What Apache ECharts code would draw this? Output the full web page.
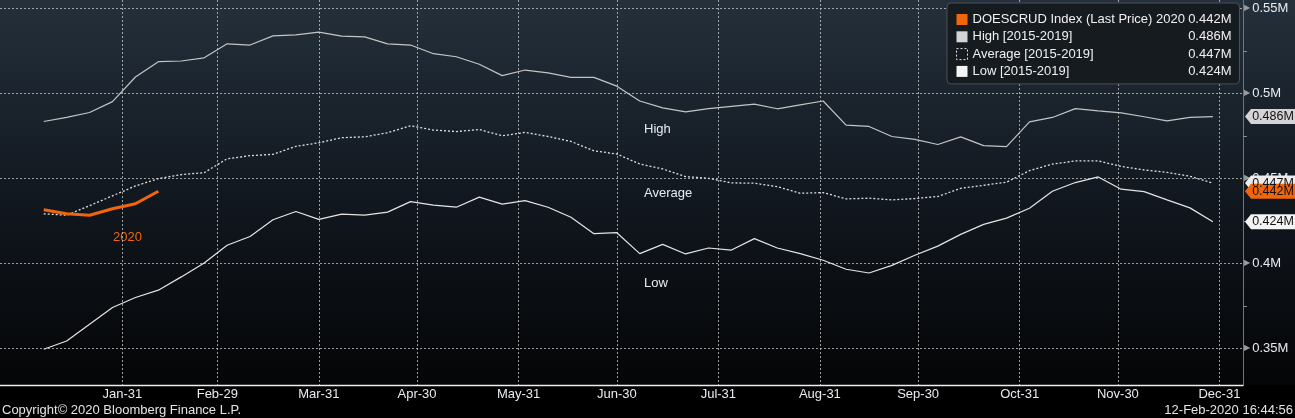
<!DOCTYPE html>
<html><head><meta charset="utf-8">
<script src="https://cdn.jsdelivr.net/npm/echarts@6/dist/echarts.min.js"></script>
<style>html,body{margin:0;padding:0;background:#000;}#c{width:1295px;height:418px;}</style>
</head><body><div id="c"></div>
<script>
// ---------- data ----------
const weeks = ['2020-01-07','2020-01-14','2020-01-21','2020-01-28','2020-02-04','2020-02-11','2020-02-18','2020-02-25',
'2020-03-03','2020-03-10','2020-03-17','2020-03-24','2020-03-31','2020-04-07','2020-04-14','2020-04-21','2020-04-28',
'2020-05-05','2020-05-12','2020-05-19','2020-05-26','2020-06-02','2020-06-09','2020-06-16','2020-06-23','2020-06-30',
'2020-07-07','2020-07-14','2020-07-21','2020-07-28','2020-08-04','2020-08-11','2020-08-18','2020-08-25',
'2020-09-01','2020-09-08','2020-09-15','2020-09-22','2020-09-29','2020-10-06','2020-10-13','2020-10-20','2020-10-27',
'2020-11-03','2020-11-10','2020-11-17','2020-11-24','2020-12-01','2020-12-08','2020-12-15','2020-12-22','2020-12-29'];
const high = [0.4834,0.4858,0.4887,0.4951,0.5096,0.5186,0.5190,0.5209,0.5291,0.5284,0.5338,0.5344,0.5360,0.5336,0.5332,0.5291,0.5284,
0.5233,0.5215,0.5171,0.5104,0.5137,0.5120,0.5094,0.5094,0.5042,0.4955,0.4914,0.4891,0.4910,0.4923,0.4936,0.4909,0.4932,0.4955,
0.4813,0.4805,0.4746,0.4729,0.4699,0.4744,0.4692,0.4686,0.4832,0.4858,0.4910,0.4897,0.4885,0.4862,0.4838,0.4858,0.4863];
const average = [0.4291,0.4283,0.4339,0.4397,0.4455,0.4498,0.4522,0.4533,0.4615,0.4633,0.4641,0.4688,0.4709,0.4739,0.4744,0.4768,0.4809,
0.4784,0.4775,0.4787,0.4750,0.4770,0.4746,0.4717,0.4662,0.4643,0.4584,0.4555,0.4510,0.4500,0.4473,0.4471,0.4451,0.4412,0.4416,
0.4379,0.4383,0.4373,0.4381,0.4393,0.4441,0.4459,0.4477,0.4545,0.4584,0.4602,0.4602,0.4570,0.4549,0.4535,0.4512,0.4472];
const low = [0.3494,0.3543,0.3642,0.3740,0.3799,0.3842,0.3920,0.4002,0.4106,0.4158,0.4256,0.4305,0.4258,0.4289,0.4283,0.4301,0.4363,
0.4342,0.4330,0.4389,0.4348,0.4369,0.4330,0.4271,0.4174,0.4180,0.4057,0.4111,0.4055,0.4090,0.4078,0.4145,0.4090,0.4057,0.4018,
0.3965,0.3943,0.3988,0.4047,0.4101,0.4170,0.4229,0.4266,0.4324,0.4424,0.4475,0.4508,0.4436,0.4422,0.4373,0.4326,0.4244];
const current2020 = [0.4315,0.4291,0.4283,0.4321,0.4350,0.4424];

const xTickDates = ['2020-01-31','2020-02-29','2020-03-31','2020-04-30','2020-05-31','2020-06-30',
'2020-07-31','2020-08-31','2020-09-30','2020-10-31','2020-11-30','2020-12-31'];
const xTickLabels = ['Jan-31','Feb-29','Mar-31','Apr-30','May-31','Jun-30','Jul-31','Aug-31','Sep-30','Oct-31','Nov-30','Dec-31'];
const yTickValues = [0.35,0.4,0.45,0.5,0.55];
const yTickLabels = ['0.35M','0.4M','0.45M','0.5M','0.55M'];
const yMinorTicks = [0.375,0.425,0.475,0.525];
const seriesNames = ['DOESCRUD Index (Last Price) 2020','High [2015-2019]','Average [2015-2019]','Low [2015-2019]'];

// ---------- helpers ----------
const FONT = '"Liberation Sans", Arial, sans-serif';
function dayOfYear(s){const p=s.split('-').map(Number);return (Date.UTC(p[0],p[1]-1,p[2])-Date.UTC(2020,0,1))/86400000;}
const X_MIN=-7.35, X_MAX=372.2, Y_MIN=0.3284, Y_MAX=0.5549;
const xTickDays = xTickDates.map(dayOfYear);
const pair = arr => arr.map((v,i)=>[dayOfYear(weeks[i]), v]);
const last = a => a[a.length-1];
const fmt = v => v.toFixed(3)+'M';
const lastValues = {};
lastValues[seriesNames[0]] = last(current2020);
lastValues[seriesNames[1]] = last(high);
lastValues[seriesNames[2]] = last(average);
lastValues[seriesNames[3]] = last(low);

const C_ORANGE='#f2650a', C_HIGH='#d4d4d4', C_AVG='#ececec', C_LOW='#f4f4f4';
const gridLine = {show:true, lineStyle:{color:'rgba(205,205,205,0.75)', width:1, type:[2,2]}};
const TXT = '#e8ecf2';

function tag(value,color){
  return {symbol:'path://M0,7 L6,0 L50,0 L50,14 L6,14 Z', symbolSize:[50,15], symbolOffset:[27,0], silent:true,
    itemStyle:{color:color},
    label:{show:true, position:'inside', formatter:()=>fmt(value), color:'#111', fontSize:12.5, fontFamily:FONT, offset:[3,0]},
    data:[{coord:[X_MAX,value]}]};
}

const chart = echarts.init(document.getElementById('c'), null, {renderer:'canvas'});
chart.setOption({
  animation:false,
  backgroundColor:'#000',
  grid:{left:0, right:52, top:0, bottom:33, containLabel:false, outerBoundsMode:'none'},
  xAxis:{type:'value', min:X_MIN, max:X_MAX,
    axisLine:{show:true, onZero:false, lineStyle:{color:'#eeeeee', width:1.3}},
    axisTick:{show:false, customValues:xTickDays},
    axisLabel:{customValues:xTickDays, formatter:v=>xTickLabels[xTickDays.indexOf(v)], color:TXT, fontSize:13, fontFamily:FONT, margin:3},
    splitLine:gridLine},
  yAxis:[{type:'value', position:'right', min:Y_MIN, max:Y_MAX,
    axisLine:{show:true, onZero:false, lineStyle:{color:'#70757a', width:1}},
    axisTick:{show:false, customValues:yTickValues},
    axisLabel:{customValues:yTickValues, margin:1,
      formatter:v=>'{a|\u25B6}{t|'+yTickLabels[yTickValues.findIndex(t=>Math.abs(t-v)<1e-9)]+'}',
      rich:{a:{color:'#9a9ea3', fontSize:8, fontFamily:'"DejaVu Sans", sans-serif', padding:[0,2,0,0]},
            t:{color:TXT, fontSize:13, fontFamily:FONT}}},
    splitLine:gridLine},
   {type:'value', position:'right', min:Y_MIN, max:Y_MAX,
    axisLine:{show:false, onZero:false}, axisTick:{show:true, customValues:yMinorTicks, length:4, lineStyle:{color:'#8a8e93'}},
    axisLabel:{show:false}, splitLine:{show:false}}],
  legend:{
    data:[
      {name:seriesNames[0], icon:'rect', itemStyle:{color:C_ORANGE}},
      {name:seriesNames[1], icon:'rect', itemStyle:{color:C_HIGH}},
      {name:seriesNames[2], icon:'rect', itemStyle:{color:'rgba(0,0,0,0)', borderColor:'#e6e6e6', borderWidth:1, borderType:[2,2]}},
      {name:seriesNames[3], icon:'rect', itemStyle:{color:C_LOW}}],
    orient:'vertical', left:947, top:3, padding:[10,8,6,9], itemGap:4.3, itemWidth:11, itemHeight:11,
    backgroundColor:'#161b20', borderColor:'#4a5056', borderWidth:1, borderRadius:4, selectedMode:false,
    textStyle:{color:'#f0f0f0', fontFamily:FONT, fontSize:13,
      rich:{n:{width:216, color:'#f0f0f0', fontFamily:FONT, fontSize:13, lineHeight:12},
            v:{width:43, align:'right', color:'#f0f0f0', fontFamily:FONT, fontSize:13, lineHeight:12}}},
    formatter:name=>'{n|'+name+'}{v|'+fmt(lastValues[name])+'}'
  },
  graphic:[
    {type:'rect', z:-10, silent:true, shape:{x:0,y:0,width:1295,height:385},
     style:{fill:new echarts.graphic.LinearGradient(0,0,0,1,[{offset:0,color:'#24303b'},{offset:0.5,color:'#121820'},{offset:1,color:'#040506'}])}},
    {type:'text', x:644, y:129, silent:true, style:{text:'High', fill:TXT, font:'13px '+FONT, verticalAlign:'middle'}},
    {type:'text', x:644, y:193, silent:true, style:{text:'Average', fill:TXT, font:'13px '+FONT, verticalAlign:'middle'}},
    {type:'text', x:644, y:283, silent:true, style:{text:'Low', fill:TXT, font:'13px '+FONT, verticalAlign:'middle'}},
    {type:'text', x:113, y:237, silent:true, style:{text:'2020', fill:C_ORANGE, font:'13px '+FONT, verticalAlign:'middle'}},
    {type:'text', x:2, y:410, silent:true, style:{text:'Copyright\u00A9 2020 Bloomberg Finance L.P.', fill:'#e4e4e4', font:'13px '+FONT, verticalAlign:'middle'}},
    {type:'text', x:1293, y:410, silent:true, style:{text:'12-Feb-2020 16:44:56', fill:'#e4e4e4', font:'13px '+FONT, verticalAlign:'middle', align:'right'}}
  ],
  series:[
    {name:seriesNames[1], type:'line', data:pair(high), symbol:'none', showSymbol:false, lineStyle:{color:'#c4c4c4', width:1.2}, itemStyle:{color:C_HIGH}, markPoint:tag(last(high),C_HIGH)},
    {name:seriesNames[2], type:'line', data:pair(average), symbol:'none', showSymbol:false, lineStyle:{color:'#e0e0e0', width:1.3, type:[2,2]}, itemStyle:{color:C_AVG}, markPoint:tag(last(average),C_AVG)},
    {name:seriesNames[3], type:'line', data:pair(low), symbol:'none', showSymbol:false, lineStyle:{color:'#e4e4e4', width:1.2}, itemStyle:{color:C_LOW}, markPoint:tag(last(low),C_LOW)},
    {name:seriesNames[0], type:'line', data:pair(current2020), symbol:'none', showSymbol:false, lineStyle:{color:C_ORANGE, width:3}, itemStyle:{color:C_ORANGE}, markPoint:tag(last(current2020),C_ORANGE)}
  ]
});
</script></body></html>
